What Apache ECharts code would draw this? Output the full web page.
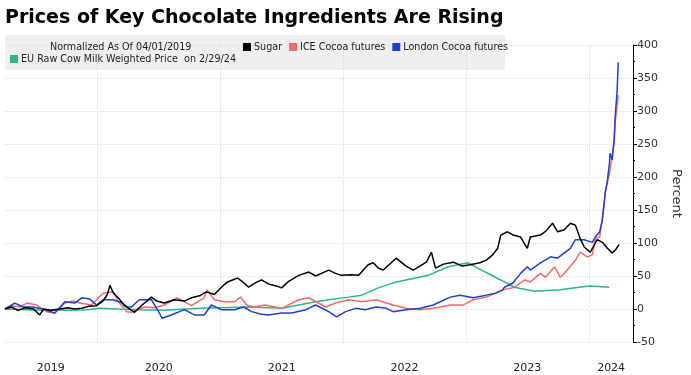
<!DOCTYPE html>
<html>
<head>
<meta charset="utf-8">
<script src="https://cdn.jsdelivr.net/npm/echarts@6/dist/echarts.min.js"></script>
<style>
  html, body { margin: 0; padding: 0; background: #fff; }
  #chart { width: 691px; height: 375px; }
</style>
</head>
<body>
<div id="chart"></div>
<script>
const legendNames = ["Sugar", "ICE Cocoa futures", "London Cocoa futures", "EU Raw Cow Milk Weighted Price  on 2/29/24"];
const yearLabels = ["2019", "2020", "2021", "2022", "2023", "2024"];
const yearLabelDates = ["2019-08-15", "2020-07-01", "2021-07-01", "2022-07-01", "2023-07-01", "2024-03-06"];
const yearStarts = ["2020-01-01", "2021-01-01", "2022-01-01", "2023-01-01", "2024-01-01"];

const sugar = [
  ["2019-04-01", 0], ["2019-04-20", 3], ["2019-05-10", -2], ["2019-06-01", 2], ["2019-06-25", 0],
  ["2019-07-13", -9], ["2019-07-25", 0], ["2019-08-15", -2], ["2019-09-11", 0], ["2019-10-05", 2],
  ["2019-10-25", 0], ["2019-11-15", 1], ["2019-12-05", 4], ["2019-12-29", 5], ["2020-01-17", 12],
  ["2020-01-30", 22], ["2020-02-07", 36], ["2020-02-16", 25], ["2020-03-06", 15], ["2020-03-21", 5],
  ["2020-04-20", -5], ["2020-05-10", 5], ["2020-06-09", 18], ["2020-06-25", 12], ["2020-07-17", 9],
  ["2020-08-16", 14], ["2020-09-15", 12], ["2020-10-06", 17], ["2020-10-30", 20], ["2020-11-19", 26],
  ["2020-12-13", 22], ["2021-01-03", 33], ["2021-01-21", 41], ["2021-02-20", 47], ["2021-03-10", 40],
  ["2021-03-25", 33], ["2021-04-15", 40], ["2021-05-02", 44], ["2021-05-23", 38], ["2021-06-15", 35],
  ["2021-07-01", 32], ["2021-07-22", 42], ["2021-08-21", 51], ["2021-09-20", 56], ["2021-10-10", 50],
  ["2021-11-18", 59], ["2021-12-08", 54], ["2021-12-26", 51], ["2022-01-20", 52], ["2022-02-15", 51],
  ["2022-03-06", 62], ["2022-03-15", 67], ["2022-03-30", 70], ["2022-04-14", 62], ["2022-04-29", 59],
  ["2022-06-06", 77], ["2022-07-06", 65], ["2022-07-27", 59], ["2022-09-04", 71], ["2022-09-19", 86],
  ["2022-10-01", 62], ["2022-10-25", 68], ["2022-11-23", 71], ["2022-12-20", 65], ["2023-01-12", 67],
  ["2023-02-10", 70], ["2023-03-01", 74], ["2023-03-20", 82], ["2023-04-04", 92], ["2023-04-13", 112],
  ["2023-05-03", 117], ["2023-05-20", 112], ["2023-06-11", 109], ["2023-07-01", 92], ["2023-07-10", 109],
  ["2023-08-09", 112], ["2023-08-25", 118], ["2023-09-14", 130], ["2023-09-29", 117], ["2023-10-19", 120],
  ["2023-11-06", 130], ["2023-11-21", 127], ["2023-12-05", 107], ["2023-12-17", 94], ["2024-01-04", 86],
  ["2024-01-19", 100], ["2024-01-25", 105], ["2024-02-09", 101], ["2024-02-24", 92], ["2024-03-09", 85],
  ["2024-03-18", 89], ["2024-03-30", 98]
];

const iceCocoa = [
  ["2019-04-01", 0], ["2019-04-20", 5], ["2019-05-15", 3], ["2019-06-05", 9], ["2019-07-04", 6],
  ["2019-08-03", -4], ["2019-08-27", -6], ["2019-09-26", 9], ["2019-10-20", 12], ["2019-11-09", 9],
  ["2019-12-14", 6], ["2020-01-17", 24], ["2020-02-16", 26], ["2020-03-06", 9], ["2020-03-27", -4],
  ["2020-04-11", -5], ["2020-05-19", 3], ["2020-06-20", 2], ["2020-07-17", 6], ["2020-08-25", 17],
  ["2020-10-06", 5], ["2020-11-13", 17], ["2020-11-22", 29], ["2020-12-13", 14], ["2021-01-12", 11],
  ["2021-02-11", 11], ["2021-03-01", 18], ["2021-03-19", 6], ["2021-04-10", 3], ["2021-05-14", 6],
  ["2021-07-01", 1], ["2021-08-21", 14], ["2021-09-20", 17], ["2021-11-09", 3], ["2021-12-08", 9],
  ["2022-01-16", 14], ["2022-02-24", 11], ["2022-04-08", 14], ["2022-05-28", 6], ["2022-07-06", 1],
  ["2022-08-17", -1], ["2022-09-25", 1], ["2022-11-14", 6], ["2022-12-22", 6], ["2023-01-21", 14],
  ["2023-03-01", 18], ["2023-03-29", 24], ["2023-04-19", 29], ["2023-04-24", 32], ["2023-05-24", 33],
  ["2023-06-23", 44], ["2023-07-10", 41], ["2023-08-09", 54], ["2023-08-24", 48], ["2023-09-20", 64],
  ["2023-10-07", 48], ["2023-10-28", 59], ["2023-11-21", 74], ["2023-12-05", 86], ["2023-12-26", 79],
  ["2024-01-10", 82], ["2024-01-19", 107], ["2024-02-01", 109], ["2024-02-09", 138], ["2024-02-15", 161],
  ["2024-02-18", 180], ["2024-02-24", 191], ["2024-03-01", 206], ["2024-03-03", 211], ["2024-03-09", 230],
  ["2024-03-15", 256], ["2024-03-18", 282], ["2024-03-27", 324]
];

const londonCocoa = [
  ["2019-04-01", 0], ["2019-04-30", 9], ["2019-05-25", 3], ["2019-06-22", 3], ["2019-07-22", 0],
  ["2019-08-27", -6], ["2019-09-26", 11], ["2019-10-25", 9], ["2019-11-15", 17], ["2019-12-09", 15],
  ["2019-12-29", 6], ["2020-01-17", 14], ["2020-02-16", 14], ["2020-03-15", 9], ["2020-03-30", 3],
  ["2020-04-11", 3], ["2020-05-04", 14], ["2020-06-09", 14], ["2020-06-27", -1], ["2020-07-11", -14],
  ["2020-08-07", -9], ["2020-09-15", -1], ["2020-10-15", -9], ["2020-11-13", -9], ["2020-12-04", 6],
  ["2021-01-03", -1], ["2021-02-11", -1], ["2021-03-10", 3], ["2021-04-03", -4], ["2021-05-02", -8],
  ["2021-05-23", -9], ["2021-07-01", -6], ["2021-07-31", -6], ["2021-09-11", -1], ["2021-10-10", 6],
  ["2021-11-18", -4], ["2021-12-11", -12], ["2022-01-07", -4], ["2022-02-06", 1], ["2022-03-06", -1],
  ["2022-04-08", 3], ["2022-05-08", 1], ["2022-05-28", -4], ["2022-07-06", -1], ["2022-08-17", 1],
  ["2022-09-25", 6], ["2022-10-15", 11], ["2022-11-14", 18], ["2022-12-13", 21], ["2023-01-21", 17],
  ["2023-03-01", 21], ["2023-03-29", 24], ["2023-04-19", 29], ["2023-04-24", 33], ["2023-05-18", 39],
  ["2023-06-11", 54], ["2023-07-01", 64], ["2023-07-10", 59], ["2023-08-09", 70], ["2023-09-08", 79],
  ["2023-09-29", 77], ["2023-10-19", 85], ["2023-11-06", 92], ["2023-11-21", 105], ["2023-12-17", 105],
  ["2024-01-10", 101], ["2024-01-19", 109], ["2024-02-01", 117], ["2024-02-09", 135], ["2024-02-15", 165],
  ["2024-02-18", 177], ["2024-02-24", 195], ["2024-03-01", 221], ["2024-03-03", 236], ["2024-03-09", 226],
  ["2024-03-15", 256], ["2024-03-18", 291], ["2024-03-24", 332], ["2024-03-27", 374]
];

const milk = [
  ["2019-04-01", 0], ["2019-06-01", -1], ["2019-08-01", -2], ["2019-10-01", -2], ["2019-12-01", -1],
  ["2020-01-08", 1], ["2020-03-01", 0], ["2020-05-01", -1], ["2020-07-17", -2], ["2020-10-30", 1],
  ["2021-01-01", 2], ["2021-03-25", 3], ["2021-07-01", 1], ["2021-10-10", 11], ["2021-11-18", 14],
  ["2022-01-16", 18], ["2022-02-24", 21], ["2022-04-14", 32], ["2022-06-01", 40], ["2022-09-10", 51],
  ["2022-11-08", 64], ["2023-01-06", 70], ["2023-02-26", 56], ["2023-04-13", 44], ["2023-05-24", 33],
  ["2023-07-22", 27], ["2023-10-07", 29], ["2023-12-01", 33], ["2024-01-04", 35], ["2024-02-29", 33]
];

const colors = ["#000000", "#f26b6b", "#1f40cc", "#2bb590"];
const font = "DejaVu Sans";

// the x axis is a value axis over timestamps so ticks can sit on year starts
const ts = (d) => Date.parse(d);
const toPoints = (rows) => rows.map(([d, v]) => [ts(d), v]);
const labelTs = yearLabelDates.map(ts);

const chart = echarts.init(document.getElementById("chart"));

function line(name, data, color, z) {
  return {
    name: name,
    type: "line",
    data: toPoints(data),
    showSymbol: false,
    symbol: "none",
    z: z,
    lineStyle: { color: color, width: 1.5 },
    itemStyle: { color: color },
  };
}

chart.setOption({
  animation: false,
  textStyle: { fontFamily: font },
  title: [
    {
      text: "Prices of Key Chocolate Ingredients Are Rising",
      left: 5, top: 9, padding: 0,
      textStyle: { fontFamily: font, fontSize: 19, fontWeight: "bold", color: "#000" },
    },
    {
      text: "Normalized As Of 04/01/2019",
      left: 50, top: 42, padding: 0,
      textStyle: { fontFamily: font, fontSize: 9.6, fontWeight: "normal", color: "#222" },
    },
  ],
  graphic: [
    { type: "rect", left: 5, top: 35, z: -1, shape: { width: 500, height: 35 }, style: { fill: "#efefef" } },
  ],
  legend: [
    {
      data: legendNames.slice(0, 3),
      left: 243, top: 42, padding: 0, itemGap: 7, itemWidth: 8, itemHeight: 8,
      icon: "rect",
      textStyle: { fontFamily: font, fontSize: 9.6, color: "#222", padding: [0, 0, 0, -2] },
    },
    {
      data: legendNames.slice(3),
      left: 10, top: 54, padding: 0, itemWidth: 8, itemHeight: 8,
      icon: "rect",
      textStyle: { fontFamily: font, fontSize: 9.6, color: "#222", padding: [0, 0, 0, -2] },
    },
  ],
  grid: { left: 5, right: 55, top: 45, bottom: 33 },
  xAxis: {
    type: "value",
    min: ts("2019-04-01"),
    max: ts("2024-05-10"),
    axisLine: { show: false },
    axisTick: { show: false, customValues: yearStarts.map(ts) },
    splitLine: { show: true, lineStyle: { color: "#dcdcdc", type: "dotted" } },
    axisLabel: {
      customValues: labelTs,
      formatter: (v) => yearLabels[labelTs.indexOf(v)] || "",
      color: "#222", fontSize: 11, margin: 21, fontFamily: font,
    },
  },
  yAxis: {
    type: "value",
    position: "right",
    min: -50, max: 400, interval: 50,
    name: "Percent",
    nameLocation: "middle",
    nameRotate: -90,
    nameGap: 37,
    nameTextStyle: { fontFamily: font, fontSize: 13, color: "#333" },
    axisLine: { show: true, lineStyle: { color: "#000" } },
    axisTick: { show: true, length: 4, lineStyle: { color: "#000" } },
    minorTick: { show: true, splitNumber: 2, length: 2, lineStyle: { color: "#000" } },
    splitLine: { show: true, lineStyle: { color: "#dcdcdc", type: "dotted" } },
    axisLabel: { color: "#333", fontSize: 11, margin: 4, fontFamily: font },
  },
  series: [
    line(legendNames[3], milk, colors[3], 2),
    line(legendNames[1], iceCocoa, colors[1], 3),
    line(legendNames[2], londonCocoa, colors[2], 4),
    line(legendNames[0], sugar, colors[0], 5),
  ],
});
</script>
</body>
</html>
